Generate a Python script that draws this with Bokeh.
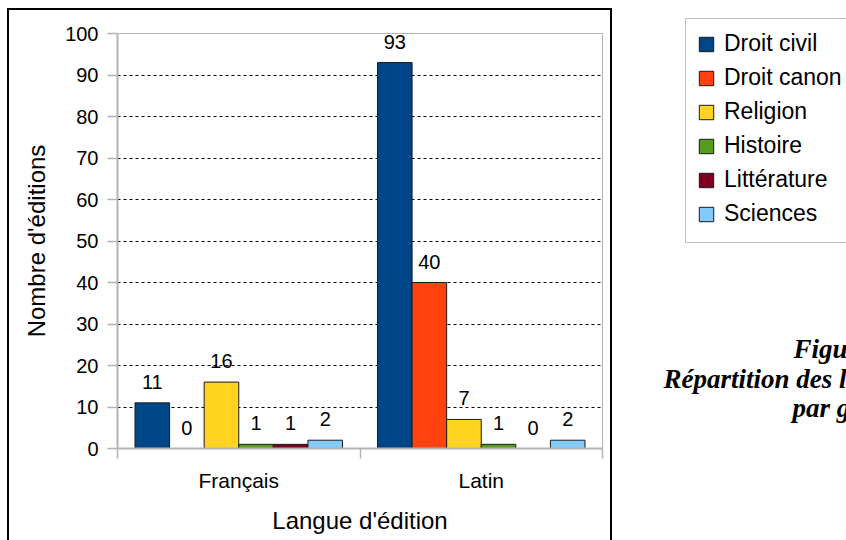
from bokeh.plotting import figure
from bokeh.layouts import row, column
from bokeh.models import (Range1d, FixedTicker, ColumnDataSource, LabelSet, Legend,
                          LegendItem, Label, Spacer, BoxAnnotation)
from bokeh.embed import file_html
from bokeh.resources import INLINE
from bokeh.core.properties import value

# ---- data ----
languages = ["Français", "Latin"]
genres = ["Droit civil", "Droit canon", "Religion", "Histoire", "Littérature", "Sciences"]
droit_civil = [11, 93]
droit_canon = [0, 40]
religion = [16, 7]
histoire = [1, 1]
litterature = [1, 0]
sciences = [2, 2]
series = [droit_civil, droit_canon, religion, histoire, litterature, sciences]
colors = ["#004586", "#ff420e", "#ffd320", "#579d1c", "#7e0021", "#83caff"]
y_ticks = list(range(0, 101, 10))
x_title = "Langue d'édition"
y_title = "Nombre d'éditions"
caption = ["Figure 2", "Répartition des livres juridiques", "par genre"]

FONT = "Liberation Sans"
SERIF = "Liberation Serif"


def blank_fig(w, h, fill="white"):
    f = figure(width=w, height=h, output_backend="svg", toolbar_location=None,
               x_axis_location=None, y_axis_location=None,
               x_range=Range1d(0, 1), y_range=Range1d(0, 1),
               min_border_left=0, min_border_right=0, min_border_top=0, min_border_bottom=0)
    f.grid.visible = False
    f.outline_line_color = None
    f.border_fill_color = fill
    f.background_fill_color = fill
    return f


def black_strip(w, h):
    return Spacer(width=w, height=h, styles={"background-color": "black"})


# ---- main chart ----
AW, AH = 601, 530
p = figure(width=AW, height=AH, x_range=Range1d(0, len(languages)), y_range=Range1d(0, 100),
           output_backend="svg", toolbar_location=None,
           min_border_left=108, min_border_right=8, min_border_top=23, min_border_bottom=92)
p.outline_line_color = "#b3b3b3"
p.outline_line_width = 1
p.background_fill_color = "white"
p.border_fill_color = "white"

p.xgrid.visible = False
p.ygrid.ticker = FixedTicker(ticks=y_ticks)
p.ygrid.grid_line_color = "black"
p.ygrid.grid_line_dash = "3 3"
p.ygrid.grid_line_width = 1

ya = p.yaxis[0]
ya.ticker = FixedTicker(ticks=y_ticks)
ya.axis_line_color = "#b3b3b3"
ya.axis_line_width = 2
ya.major_tick_line_color = "#b3b3b3"
ya.major_tick_line_width = 1.5
ya.major_tick_in = 0
ya.major_tick_out = 10
ya.minor_tick_line_color = None
ya.major_label_text_font = FONT
ya.major_label_text_font_size = "20px"
ya.major_label_text_color = "black"
ya.major_label_standoff = 9
ya.axis_label = y_title
ya.axis_label_text_font = FONT
ya.axis_label_text_font_size = "24px"
ya.axis_label_text_font_style = "normal"
ya.axis_label_text_color = "black"
ya.axis_label_standoff = 12

xa = p.xaxis[0]
xa.ticker = FixedTicker(ticks=[i + 0.5 for i in range(len(languages))],
                        minor_ticks=list(range(len(languages) + 1)))
xa.major_label_overrides = {i + 0.5: lang for i, lang in enumerate(languages)}
xa.axis_line_color = "#b3b3b3"
xa.axis_line_width = 2
xa.major_tick_line_color = None
xa.major_tick_in = 0
xa.major_tick_out = 0
xa.minor_tick_line_color = "#b3b3b3"
xa.minor_tick_line_width = 1.5
xa.minor_tick_in = 0
xa.minor_tick_out = 10
xa.major_label_text_font = FONT
xa.major_label_text_font_size = "21px"
xa.major_label_text_color = "black"
xa.major_label_standoff = 10
xa.axis_label = x_title
xa.axis_label_text_font = FONT
xa.axis_label_text_font_size = "24px"
xa.axis_label_text_font_style = "normal"
xa.axis_label_text_color = "black"
xa.axis_label_standoff = 12

# ---- right panel: legend + caption ----
BW = 846 - 7 - 2 - AW - 2
SH = 540
side = blank_fig(BW, SH)

bw = 0.1426
n = len(genres)
items = []
for j, (g, vals, c) in enumerate(zip(genres, series, colors)):
    xs = [i + 0.5 + (j - (n - 1) / 2) * bw for i in range(len(languages))]
    src = ColumnDataSource(dict(x=xs, top=vals, label=[str(v) for v in vals]))
    p.vbar(x="x", top="top", bottom=0, width=bw, source=src,
           fill_color=c, line_color="#1a1a1a", line_width=1)
    p.add_layout(LabelSet(x="x", y="top", text="label", source=src, y_offset=14,
                          text_align="center", text_baseline="alphabetic",
                          text_font=value(FONT), text_font_size="20px", text_color="black"))
    # same series in the side panel, hidden, only to feed the legend swatch
    r = side.vbar(x="x", top="top", bottom=0, width=bw, source=src, visible=False,
                  fill_color=c, line_color="#1a1a1a", line_width=1)
    items.append(LegendItem(label=g, renderers=[r]))

# legend border box (page px: x from 685, y 18..242)
side.add_layout(BoxAnnotation(left=73, right=BW + 40, top=SH - 18, bottom=SH - 242,
                              left_units="screen", right_units="screen",
                              top_units="screen", bottom_units="screen",
                              fill_alpha=0, line_color="#333333", line_width=1))

legend = Legend(items=items, location=(85, 312.5), orientation="vertical",
                padding=4, spacing=6, margin=0, click_policy="none",
                glyph_width=18, glyph_height=18, label_height=28, label_standoff=9,
                label_text_font=FONT, label_text_font_size="23px", label_text_color="black",
                border_line_color=None, background_fill_alpha=0)
side.add_layout(legend, "center")

cap_pos = [(181, 192), (51, 162), (180, 133)]
for txt, (cx, cy) in zip(caption, cap_pos):
    side.add_layout(Label(x=cx, y=cy, x_units="screen", y_units="screen", text=txt,
                          text_font=SERIF, text_font_style="bold italic", text_font_size="27px",
                          text_color="black", text_align="left", text_baseline="alphabetic"))

# ---- black frame pieces around the chart ----
left_bar = column(Spacer(width=2, height=8), black_strip(2, 532), spacing=0)
right_bar = column(Spacer(width=2, height=8), black_strip(2, 532), spacing=0)
middle = column(Spacer(width=AW, height=8), black_strip(AW, 2), p, spacing=0)

layout = row(Spacer(width=7, height=540), left_bar, middle, right_bar, side, spacing=0)
open("out.html", "w").write(file_html(layout, INLINE))
